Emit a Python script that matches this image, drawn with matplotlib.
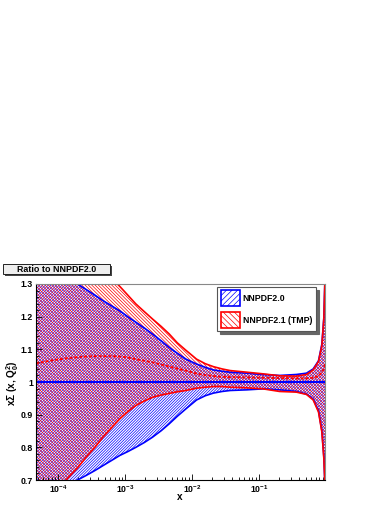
import matplotlib
matplotlib.use("Agg")
import matplotlib.pyplot as plt
from matplotlib.patches import Patch, Rectangle
from matplotlib.ticker import LogLocator, MultipleLocator

#%% Data (ratio to NNPDF2.0 central value)

x = [4.68e-5, 7.94e-5, 1.26e-4, 1.95e-4, 2.63e-4, 3.55e-4, 4.68e-4, 6.31e-4, 8.32e-4,
     1.10e-3, 1.45e-3, 1.95e-3, 2.57e-3, 3.47e-3, 4.57e-3, 6.03e-3, 8.13e-3,
     1.17e-2, 1.58e-2, 2.09e-2, 2.82e-2, 3.72e-2, 6.61e-2, 0.115, 0.204, 0.363,
     0.513, 0.646, 0.776, 0.871, 0.933, 0.97]

nn20_up = [1.38, 1.35, 1.325, 1.30, 1.283, 1.266, 1.249, 1.233, 1.218,
           1.200, 1.183, 1.165, 1.147, 1.126, 1.106, 1.088, 1.07,
           1.055, 1.045, 1.037, 1.033, 1.03, 1.027, 1.023, 1.02, 1.023,
           1.027, 1.04, 1.065, 1.116, 1.198, 1.32]
nn20_lo = [0.63, 0.655, 0.678, 0.70, 0.714, 0.729, 0.744, 0.76, 0.775,
           0.787, 0.80, 0.815, 0.831, 0.851, 0.872, 0.895, 0.918,
           0.945, 0.958, 0.966, 0.971, 0.974, 0.976, 0.979, 0.976, 0.971,
           0.963, 0.948, 0.912, 0.851, 0.77, 0.68]
nn20_cv = 1.0

nn21_up = [1.55, 1.50, 1.46, 1.42, 1.39, 1.37, 1.345, 1.318, 1.293,
           1.266, 1.239, 1.215, 1.193, 1.17, 1.147, 1.12, 1.097,
           1.07, 1.056, 1.047, 1.04, 1.035, 1.03, 1.025, 1.019, 1.018,
           1.023, 1.037, 1.063, 1.112, 1.195, 1.32]
nn21_lo = [0.60, 0.65, 0.696, 0.737, 0.77, 0.80, 0.831, 0.86, 0.887,
           0.909, 0.928, 0.942, 0.953, 0.96, 0.965, 0.97, 0.974,
           0.981, 0.984, 0.986, 0.986, 0.984, 0.982, 0.979, 0.971, 0.969,
           0.962, 0.945, 0.908, 0.847, 0.765, 0.68]
nn21_cv = [1.057, 1.066, 1.072, 1.076, 1.078, 1.079, 1.079, 1.079, 1.078,
           1.075, 1.07, 1.065, 1.06, 1.053, 1.047, 1.041, 1.035,
           1.026, 1.021, 1.018, 1.016, 1.015, 1.014, 1.013, 1.012, 1.011,
           1.011, 1.013, 1.018, 1.03, 1.04, 1.055]

labels = ["NNPDF2.0", "NNPDF2.1 (TMP)"]
title = "Ratio to NNPDF2.0"

#%% Style

plt.rcParams['font.family'] = ['Liberation Sans', 'DejaVu Sans']
plt.rcParams['font.weight'] = 'bold'
plt.rcParams['mathtext.fontset'] = 'custom'
plt.rcParams['mathtext.rm'] = 'Liberation Sans:bold'
plt.rcParams['mathtext.it'] = 'Liberation Sans:bold'
plt.rcParams['mathtext.bf'] = 'Liberation Sans:bold'
plt.rcParams['mathtext.default'] = 'rm'
plt.rcParams['hatch.linewidth'] = 0.5

BLUE = '#0000ff'
RED = '#ff0000'
HATCH_20 = '/' * 12
HATCH_21 = '\\' * 10

fig = plt.figure(figsize=(3.9, 5.05), dpi=100)
ax = fig.add_axes([36/390, 25/505, 289/390, 196/505])

### Bands
ax.fill_between(x, nn20_lo, nn20_up, facecolor='none', edgecolor=BLUE,
                hatch=HATCH_20, linewidth=0)
ax.fill_between(x, nn21_lo, nn21_up, facecolor='none', edgecolor=RED,
                hatch=HATCH_21, linewidth=0)

### Lines
ax.plot(x, nn20_up, color=BLUE, lw=1.2)
ax.plot(x, nn20_lo, color=BLUE, lw=1.2)
ax.plot(x, nn21_up, color=RED, lw=1.2)
ax.plot(x, nn21_lo, color=RED, lw=1.2)
ax.plot(x, nn21_cv, color=RED, lw=1.4, linestyle=(0, (1.5, 1)))
ax.axhline(nn20_cv, color=BLUE, lw=1.5)

### Axes
ax.set_xscale('log')
ax.set_xlim(4.68e-5, 0.97)
ax.set_ylim(0.7, 1.3)
ax.yaxis.set_major_locator(MultipleLocator(0.1))
ax.yaxis.set_minor_locator(MultipleLocator(0.02))
ax.xaxis.set_major_locator(LogLocator(base=10, numticks=20))
ax.xaxis.set_minor_locator(LogLocator(base=10, subs=range(2, 10), numticks=50))
ax.tick_params(which='both', direction='in', top=False, right=False, labelsize=6.3)
ax.tick_params(axis='y', which='major', length=4, width=0.6, pad=2)
ax.tick_params(axis='y', which='minor', length=2, width=0.6)
ax.tick_params(axis='x', which='major', length=4, width=0.6, pad=2.5)
ax.tick_params(axis='x', which='minor', length=2, width=0.6)
ax.yaxis.set_major_formatter(plt.FuncFormatter(lambda v, p: f"{v:g}"))
for s in ['top', 'right']:
    ax.spines[s].set_color('#888888')
    ax.spines[s].set_linewidth(0.8)
for s in ['left', 'bottom']:
    ax.spines[s].set_linewidth(0.8)

fig.text(12.5/390, 1 - 383/505, r"x$\Sigma$ (x, Q$_{0}^{2}$)", rotation=90,
         ha='center', va='center', fontsize=7.2)
fig.text(180/390, 1 - 497/505, "x", ha='center', va='center', fontsize=7.2)

### Legend
handles = [Patch(facecolor='none', edgecolor=BLUE, hatch='//////', lw=1.2),
           Patch(facecolor='none', edgecolor=RED, hatch='\\\\\\\\\\\\', lw=1.2)]
leg = ax.legend(handles, labels, loc='upper left', bbox_to_anchor=(217/390, 1 - 287/505),
                bbox_transform=fig.transFigure, fontsize=6.3, fancybox=False,
                shadow={'color': '#666666', 'alpha': 1},
                handlelength=2.2, handleheight=2.3, labelspacing=0.75, borderpad=0.4,
                handletextpad=0.35, borderaxespad=0, framealpha=1, edgecolor='#555555')
leg.get_frame().set_linewidth(0.8)
for t in leg.get_texts():
    t.set_fontweight('bold')

### Title box with ROOT-like shadow
fig.patches.append(Rectangle((5/390, 1 - 276/505), 107/390, 10/505, transform=fig.transFigure,
                             facecolor='#444444', edgecolor='none', zorder=1))
fig.patches.append(Rectangle((3/390, 1 - 274/505), 107/390, 10/505, transform=fig.transFigure,
                             facecolor='#eeeeee', edgecolor='#222222', lw=0.7, zorder=2))
fig.text(56.5/390, 1 - 269/505, title, ha='center', va='center', fontsize=6.4, zorder=3)

fig.savefig('out.png', dpi=100)
